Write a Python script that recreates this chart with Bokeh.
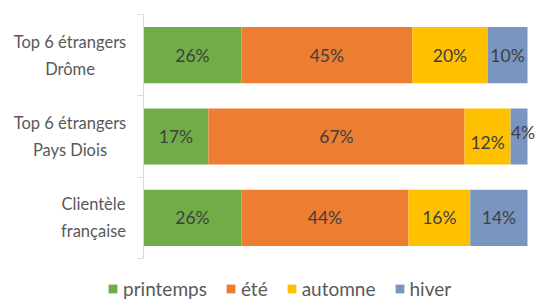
from bokeh.plotting import figure
from bokeh.models import Range1d, FixedTicker, ColumnDataSource, Legend, LegendItem
from bokeh.layouts import row, column
from bokeh.embed import file_html
from bokeh.resources import INLINE
from bokeh.core.properties import value

categories = ["Top 6 étrangers\nDrôme", "Top 6 étrangers\nPays Diois", "Clientèle\nfrançaise"]
seasons = ["printemps", "été", "automne", "hiver"]
printemps = [25.5, 16.9, 25.5]
ete = [44.5, 66.7, 43.5]
automne = [19.6, 12.0, 16.1]
hiver = [10.4, 4.4, 14.9]
lbl_printemps = ["26%", "17%", "26%"]
lbl_ete = ["45%", "67%", "44%"]
lbl_automne = ["20%", "12%", "16%"]
lbl_hiver = ["10%", "4%", "14%"]

colors = ["#70AD47", "#ED7D31", "#FFC000", "#7A96C0"]
FONT = "Lato"

n = len(categories)
ypos = [i + 0.5 for i in range(n)]
y_range = Range1d(n, 0)

# ---- layout constants (pixels)
LAB_W = 135          # width of the category-label strip
MAIN_H = 270
TOP, BOTTOM = 14, 12
FRAME_W, EXTRA_R = 384, 8   # bar length for 100 %, plus room for overflowing labels

# ---- category label strip
lab = figure(width=LAB_W, height=MAIN_H, output_backend="svg", toolbar_location=None,
             x_range=Range1d(0, LAB_W), y_range=y_range, x_axis_type=None, y_axis_type=None,
             min_border_left=0, min_border_right=0, min_border_top=TOP, min_border_bottom=BOTTOM)
lab.outline_line_color = None
lab.grid.visible = False
label_center = [69.5, 69.5, 93]   # horizontal centre of each label block (right edges ~125)
lab.text(x=label_center, y=ypos, text=categories, text_align="center", text_baseline="middle",
         text_font=value(FONT), text_font_size="16.5px", text_color="#595959",
         text_line_height=1.35)

# ---- main bars
p = figure(width=8 + FRAME_W + EXTRA_R, height=MAIN_H, output_backend="svg", toolbar_location=None,
           x_range=Range1d(0, 100 * (FRAME_W + EXTRA_R) / FRAME_W), y_range=y_range,
           min_border_left=8, min_border_right=0, min_border_top=TOP, min_border_bottom=BOTTOM)
p.outline_line_color = None
p.grid.visible = False
p.xaxis.visible = False

data = {"y": ypos, "printemps": printemps, "été": ete, "automne": automne, "hiver": hiver}
source = ColumnDataSource(data)
p.hbar_stack(seasons, y="y", height=0.69, color=colors, line_color=None, source=source)

series = [printemps, ete, automne, hiver]
labels = [lbl_printemps, lbl_ete, lbl_automne, lbl_hiver]
lx, ly, lt = [], [], []
for r in range(n):
    cum = 0.0
    for s in range(len(series)):
        v = series[s][r]
        lx.append(cum + v / 2)
        ly.append(ypos[r])
        lt.append(labels[s][r])
        cum += v
xoff = [0, 0, 0, 0,
        0, 0, 0, 4,
        0, 0, 0, 0]
yoff = [0, 0, 0, 0,
        0, 0, 6, -4,
        0, 0, 0, 0]
lsrc = ColumnDataSource(dict(x=lx, y=ly, text=lt, xo=xoff, yo=yoff))
p.text(x="x", y="y", text="text", x_offset="xo", y_offset="yo", source=lsrc, text_align="center",
       text_baseline="middle", text_font=value(FONT), text_font_size="17.5px",
       text_color="#404040")

yax = p.yaxis[0]
yax.ticker = FixedTicker(ticks=[], minor_ticks=list(range(n + 1)))
yax.major_tick_out = 0
yax.major_tick_in = 0
yax.minor_tick_out = 6
yax.minor_tick_in = 0
yax.minor_tick_line_color = "#D9D9D9"
yax.axis_line_color = "#D9D9D9"
yax.major_label_standoff = 0
yax.major_label_text_font_size = "0px"

# ---- legend strip (swatch proxies carry no visible geometry)
leg = figure(width=LAB_W + 8 + FRAME_W + EXTRA_R, height=300 - MAIN_H, output_backend="svg",
             toolbar_location=None, x_range=Range1d(0, 1), y_range=Range1d(0, 1),
             x_axis_type=None, y_axis_type=None,
             min_border_left=0, min_border_right=0, min_border_top=0, min_border_bottom=0)
leg.outline_line_color = None
leg.grid.visible = False
nan = float("nan")
swatches = []
for c in colors:
    swatches.append(leg.hbar(y=[nan], right=[nan], height=1, fill_color=c, line_color=None))
legend = Legend(items=[LegendItem(label=seasons[i], renderers=[swatches[i]]) for i in range(len(seasons))],
                orientation="horizontal", location=(107, 0),
                glyph_width=11, glyph_height=11, label_standoff=5, spacing=18,
                padding=0, margin=0, border_line_color=None, background_fill_alpha=0,
                label_text_font=FONT, label_text_font_size="19px", label_text_color="#595959",
                label_height=14)
leg.add_layout(legend)

layout = column(row(lab, p, spacing=0), leg, spacing=0)
open("out.html", "w").write(file_html(layout, INLINE))
